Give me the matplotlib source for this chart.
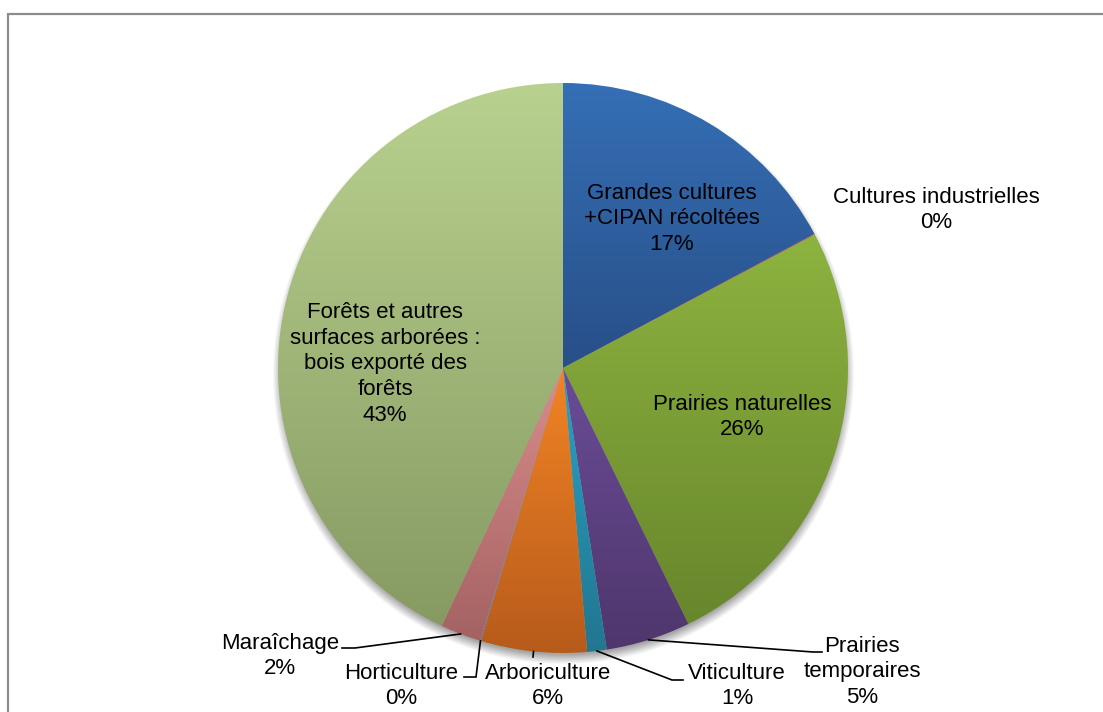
import numpy as np
import matplotlib
matplotlib.use("Agg")
import matplotlib.pyplot as plt
from matplotlib.colors import to_rgb
from matplotlib.patches import Rectangle

# Répartition des surfaces (%)
categories = [
    "Grandes cultures\n+CIPAN récoltées",
    "Cultures industrielles",
    "Prairies naturelles",
    "Prairies\ntemporaires",
    "Viticulture",
    "Arboriculture",
    "Horticulture",
    "Maraîchage",
    "Forêts et autres\nsurfaces arborées :\nbois exporté des\nforêts",
]
valeurs = [17.2, 0.05, 25.5, 4.8, 1.1, 6.0, 0.05, 2.3, 43.0]

# dégradé haut -> bas de chaque part
couleurs_haut = ["#356fb5", "#c0504d", "#8db33f", "#6a4c97", "#2aa2c4",
                 "#f28425", "#7f9fd0", "#d88d8b", "#b9d18f"]
couleurs_bas = ["#284f88", "#9a3a38", "#68862c", "#4f366c", "#227690",
                "#b75b1b", "#5a78a8", "#a46262", "#869a62"]

W, H = 1103, 712
CX, CY, R = 563, H - 368, 285

# positions des étiquettes (pixels, y vers le bas)
pos_labels = [(672, 219), (936, 210), (742, 417), (862, 672), (737, 686),
              (548, 686), (401, 686), (280, 656), (385, 364)]
# coudes des lignes de rappel (None = pas de ligne)
rappels = [None, None, None,
           [(813, 652), (822, 652)],
           [(672, 680), (683, 680)],
           [(533, 657)],
           [(476, 677), (464, 677)],
           [(355, 648), (342, 648)],
           None]

plt.rcParams["font.family"] = ["Liberation Sans", "DejaVu Sans"]

fig = plt.figure(figsize=(W / 100, H / 100), dpi=100)
ax = fig.add_axes([0, 0, 1, 1])

# ombre douce sous le camembert
yy, xx = np.mgrid[0:H, 0:W]
d = np.hypot(xx - CX, (H - yy) - (CY - 5))
ombre = np.clip((R + 6 - d) / 10, 0, 1) * 0.35
img_ombre = np.zeros((H, W, 4))
img_ombre[..., 3] = ombre
ax.imshow(img_ombre, extent=(0, W, 0, H), origin="upper", zorder=0,
          aspect="auto", interpolation="bilinear")

wedges, _ = ax.pie(valeurs, startangle=90, counterclock=False,
                   center=(CX, CY), radius=R, frame=True,
                   wedgeprops=dict(linewidth=0, edgecolor="none"))

# remplissage en dégradé vertical, découpé par chaque part
for w, c1, c2 in zip(wedges, couleurs_haut, couleurs_bas):
    ext = w.get_path().get_extents()
    t = np.linspace(0, 1, 256)[:, None]
    grad = (1 - t) * np.array(to_rgb(c1)) + t * np.array(to_rgb(c2))
    im = ax.imshow(grad[:, None, :], extent=(ext.x0, ext.x1, ext.y0, ext.y1),
                   origin="upper", aspect="auto", interpolation="bilinear",
                   zorder=1)
    im.set_clip_path(w)
    w.set_facecolor("none")
    w.set_zorder(2)

# étiquettes et lignes de rappel
for w, nom, v, (lx, ly), coudes in zip(wedges, categories, valeurs,
                                       pos_labels, rappels):
    ax.text(lx, H - ly, f"{nom}\n{round(v)}%", ha="center", va="center",
            fontsize=16, color="black", linespacing=1.3, zorder=5)
    if coudes:
        ang = np.deg2rad((w.theta1 + w.theta2) / 2)
        xs = [CX + R * np.cos(ang)] + [p[0] for p in coudes]
        ys = [CY + R * np.sin(ang)] + [H - p[1] for p in coudes]
        ax.plot(xs, ys, color="black", lw=1.2, zorder=4,
                solid_joinstyle="miter")

# cadre de la zone graphique
ax.add_patch(Rectangle((8, -20), W + 20, H - 14 + 20, fill=False,
                       edgecolor="#8c8c8c", lw=1.6, zorder=6))

ax.set_xlim(0, W)
ax.set_ylim(0, H)
ax.axis("off")

fig.savefig("out.png", dpi=100)
